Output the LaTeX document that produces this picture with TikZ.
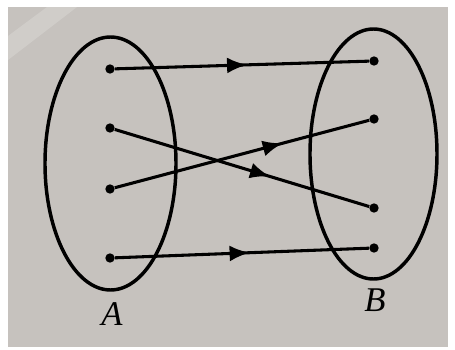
\documentclass[tikz,border=0pt]{standalone}
\usepackage{fontspec}
\setmainfont{Liberation Serif}
\usetikzlibrary{arrows.meta,decorations.markings}
\definecolor{paper}{RGB}{198,194,190}
\tikzset{
  setline/.style={line width=2.6pt},
  dot/.style={circle,fill=black,inner sep=0pt,minimum size=7pt},
  mapline/.style={line width=2.3pt,postaction={decorate},
    decoration={markings,mark=at position #1 with {\arrow{Latex[length=15pt,width=12pt]}}}},
  setlabel/.style={font=\fontsize{26}{28}\selectfont\itshape},
}
\begin{document}
\begin{tikzpicture}[x=0.75pt,y=-0.75pt]
\useasboundingbox (0,0) rectangle (455,350);
\fill[white] (0,0) rectangle (455,350);
\fill[paper] (8,7) rectangle (448,347);
\fill[white,opacity=.18] (47,7) -- (77,7) -- (8,60) -- (8,36) -- cycle;

\draw[setline] (110.5,163.5) ellipse [x radius=65.5, y radius=126.5];
\draw[setline] (373.5,154) ellipse [x radius=63.5, y radius=125];

\node[dot] (a1) at (110,69) {};
\node[dot] (a2) at (110,128) {};
\node[dot] (a3) at (110,189) {};
\node[dot] (a4) at (110,258) {};

\node[dot] (b1) at (374,61) {};
\node[dot] (b2) at (374,119) {};
\node[dot] (b3) at (374,208) {};
\node[dot] (b4) at (374,248) {};

\draw[mapline=.52] (a1) -- (b1);
\draw[mapline=.61] (a2) -- (b3);
\draw[mapline=.66] (a3) -- (b2);
\draw[mapline=.53] (a4) -- (b4);

\node[setlabel] (lA) at (112,314) {A};
\node[setlabel] (lB) at (375,300) {B};

\end{tikzpicture}
\end{document}
